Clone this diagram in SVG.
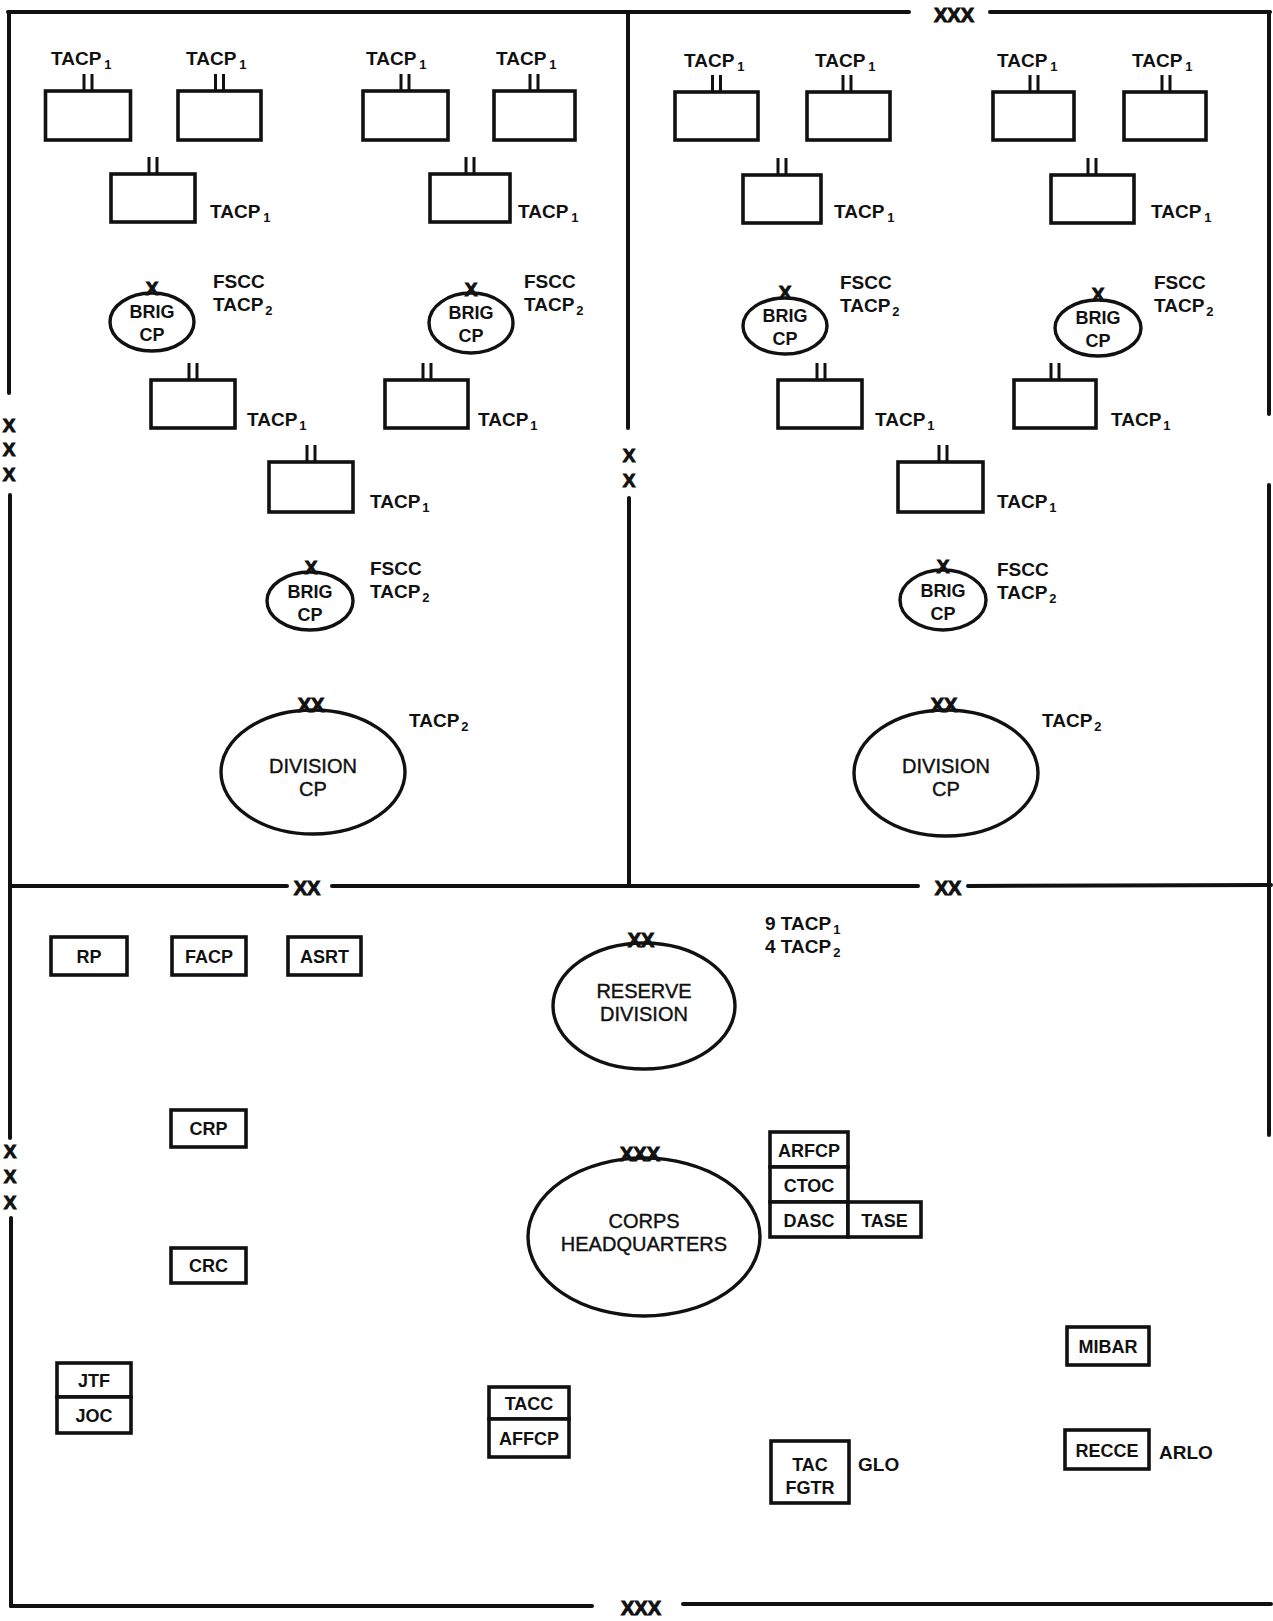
<svg xmlns="http://www.w3.org/2000/svg" width="1273" height="1621" viewBox="0 0 1273 1621">
<style>
.bg{fill:#fff}
.ln{stroke:#111;stroke-width:4;fill:none;stroke-linecap:round}
.bx{stroke:#111;stroke-width:3.6;fill:#fff}
.el{stroke:#111;stroke-width:3.4;fill:#fff}
.ii{stroke:#111;stroke-width:3;fill:none}
.t{font-family:"Liberation Sans",Arial,sans-serif;font-weight:bold;font-size:19px;fill:#111}
.s{font-size:13px}
.c{font-family:"Liberation Sans",Arial,sans-serif;font-weight:bold;font-size:18px;fill:#111;text-anchor:middle}
.e{font-family:"Liberation Sans",Arial,sans-serif;font-weight:normal;font-size:20px;fill:#111;stroke:#111;stroke-width:0.4;text-anchor:middle}
.x{font-family:"Liberation Sans",Arial,sans-serif;font-weight:bold;font-size:20px;fill:#111;stroke:#111;stroke-width:1;text-anchor:middle}
.xs{font-family:"Liberation Sans",Arial,sans-serif;font-weight:bold;font-size:19px;fill:#111;stroke:#111;stroke-width:1;text-anchor:middle}
</style>
<defs>
<g id="ii"><line class="ii" x1="-4" y1="-17" x2="-4" y2="0"/><line class="ii" x1="4" y1="-17" x2="4" y2="0"/></g>
</defs>
<rect class="bg" x="0" y="0" width="1273" height="1621"/>

<g id="boundaries">
<line class="ln" x1="8" y1="12" x2="909" y2="12"/>
<line class="ln" x1="990" y1="12" x2="1270" y2="12"/>
<text class="x" x="954" y="22" font-size="22">XXX</text>
<line class="ln" x1="9" y1="12" x2="9" y2="393"/>
<text class="xs" x="9" y="432">X</text>
<text class="xs" x="9" y="456">X</text>
<text class="xs" x="9" y="481">X</text>
<line class="ln" x1="10" y1="495" x2="10" y2="1138"/>
<text class="xs" x="10" y="1158">X</text>
<text class="xs" x="10" y="1183">X</text>
<text class="xs" x="10" y="1209">X</text>
<line class="ln" x1="11" y1="1218" x2="11" y2="1606"/>
<line class="ln" x1="628" y1="12" x2="628" y2="428"/>
<text class="xs" x="629" y="462">X</text>
<text class="xs" x="629" y="487">X</text>
<line class="ln" x1="629" y1="498" x2="629" y2="886"/>
<line class="ln" x1="10" y1="886" x2="287" y2="886"/>
<text class="x" x="307" y="895">XX</text>
<line class="ln" x1="332" y1="886" x2="918" y2="886"/>
<text class="x" x="948" y="895">XX</text>
<line class="ln" x1="968" y1="886" x2="1271" y2="885"/>
<line class="ln" x1="1269" y1="12" x2="1269" y2="414"/>
<line class="ln" x1="1269" y1="485" x2="1269" y2="1135"/>
<line class="ln" x1="11" y1="1606" x2="592" y2="1606"/>
<text class="x" x="641" y="1615" font-size="22">XXX</text>
<line class="ln" x1="683" y1="1604" x2="1271" y2="1604"/>
</g>

<!-- Top-left panel -->
<g id="tl-tacp1"><text class="t" x="51" y="65">TACP<tspan class="s" dx="3" dy="4">1</tspan></text><use href="#ii" x="88" y="91"/><rect class="bx" x="45.5" y="91" width="85" height="49"/></g>
<g id="tl-tacp2"><text class="t" x="186" y="65">TACP<tspan class="s" dx="3" dy="4">1</tspan></text><use href="#ii" x="219.5" y="91"/><rect class="bx" x="178" y="91" width="83" height="49"/></g>
<g id="tl-tacp3"><text class="t" x="366" y="65">TACP<tspan class="s" dx="3" dy="4">1</tspan></text><use href="#ii" x="405" y="91"/><rect class="bx" x="363" y="91" width="85" height="49"/></g>
<g id="tl-tacp4"><text class="t" x="496" y="65">TACP<tspan class="s" dx="3" dy="4">1</tspan></text><use href="#ii" x="534" y="91"/><rect class="bx" x="494" y="91" width="81" height="49"/></g>
<g id="tl-tacp5"><use href="#ii" x="153" y="174"/><rect class="bx" x="111" y="174" width="84" height="48"/><text class="t" x="210" y="218">TACP<tspan class="s" dx="3" dy="4">1</tspan></text></g>
<g id="tl-tacp6"><use href="#ii" x="470" y="174"/><rect class="bx" x="430" y="174" width="80" height="48"/><text class="t" x="518" y="218">TACP<tspan class="s" dx="3" dy="4">1</tspan></text></g>
<g id="tl-brig1"><ellipse class="el" cx="152" cy="322" rx="42" ry="29"/><text class="xs" x="152" y="295">X</text><text class="c" x="152" y="318">BRIG</text><text class="c" x="152" y="341">CP</text><text class="t" x="213" y="288">FSCC</text><text class="t" x="213" y="311">TACP<tspan class="s" dx="2" dy="4">2</tspan></text></g>
<g id="tl-brig2"><ellipse class="el" cx="471" cy="323" rx="42" ry="30"/><text class="xs" x="471" y="296">X</text><text class="c" x="471" y="319">BRIG</text><text class="c" x="471" y="342">CP</text><text class="t" x="524" y="288">FSCC</text><text class="t" x="524" y="311">TACP<tspan class="s" dx="2" dy="4">2</tspan></text></g>
<g id="tl-tacp7"><use href="#ii" x="193" y="380"/><rect class="bx" x="151" y="380" width="84" height="48"/><text class="t" x="247" y="426">TACP<tspan class="s" dx="2" dy="4">1</tspan></text></g>
<g id="tl-tacp8"><use href="#ii" x="427" y="380"/><rect class="bx" x="385" y="380" width="83" height="48"/><text class="t" x="478" y="426">TACP<tspan class="s" dx="2" dy="4">1</tspan></text></g>
<g id="tl-tacp9"><use href="#ii" x="311" y="462"/><rect class="bx" x="269" y="462" width="84" height="50"/><text class="t" x="370" y="508">TACP<tspan class="s" dx="2" dy="4">1</tspan></text></g>
<g id="tl-brig3"><ellipse class="el" cx="310" cy="601" rx="43" ry="29"/><text class="xs" x="311" y="574">X</text><text class="c" x="310" y="598">BRIG</text><text class="c" x="310" y="621">CP</text><text class="t" x="370" y="575">FSCC</text><text class="t" x="370" y="598">TACP<tspan class="s" dx="2" dy="4">2</tspan></text></g>
<g id="tl-division"><ellipse class="el" cx="313" cy="772" rx="92" ry="62"/><text class="x" x="311" y="712">XX</text><text class="e" x="313" y="773" font-size="21">DIVISION</text><text class="e" x="313" y="796" font-size="21">CP</text><text class="t" x="409" y="727">TACP<tspan class="s" dx="2" dy="4">2</tspan></text></g>

<!-- Top-right panel -->
<g id="tr-tacp1"><text class="t" x="684" y="67">TACP<tspan class="s" dx="3" dy="4">1</tspan></text><use href="#ii" x="716.5" y="92"/><rect class="bx" x="675" y="92" width="83" height="48"/></g>
<g id="tr-tacp2"><text class="t" x="815" y="67">TACP<tspan class="s" dx="3" dy="4">1</tspan></text><use href="#ii" x="847" y="92"/><rect class="bx" x="807" y="92" width="83" height="48"/></g>
<g id="tr-tacp3"><text class="t" x="997" y="67">TACP<tspan class="s" dx="3" dy="4">1</tspan></text><use href="#ii" x="1034" y="92"/><rect class="bx" x="993" y="92" width="81" height="48"/></g>
<g id="tr-tacp4"><text class="t" x="1132" y="67">TACP<tspan class="s" dx="3" dy="4">1</tspan></text><use href="#ii" x="1166" y="92"/><rect class="bx" x="1124" y="92" width="82" height="48"/></g>
<g id="tr-tacp5"><use href="#ii" x="782" y="175"/><rect class="bx" x="743" y="175" width="78" height="48"/><text class="t" x="834" y="218">TACP<tspan class="s" dx="3" dy="4">1</tspan></text></g>
<g id="tr-tacp6"><use href="#ii" x="1092" y="175"/><rect class="bx" x="1051" y="175" width="83" height="48"/><text class="t" x="1151" y="218">TACP<tspan class="s" dx="3" dy="4">1</tspan></text></g>
<g id="tr-brig1"><ellipse class="el" cx="785" cy="326" rx="42" ry="28"/><text class="xs" x="785" y="299">X</text><text class="c" x="785" y="322">BRIG</text><text class="c" x="785" y="345">CP</text><text class="t" x="840" y="289">FSCC</text><text class="t" x="840" y="312">TACP<tspan class="s" dx="2" dy="4">2</tspan></text></g>
<g id="tr-brig2"><ellipse class="el" cx="1098" cy="328" rx="43" ry="28"/><text class="xs" x="1098" y="301">X</text><text class="c" x="1098" y="324">BRIG</text><text class="c" x="1098" y="347">CP</text><text class="t" x="1154" y="289">FSCC</text><text class="t" x="1154" y="312">TACP<tspan class="s" dx="2" dy="4">2</tspan></text></g>
<g id="tr-tacp7"><use href="#ii" x="821" y="380"/><rect class="bx" x="778" y="380" width="84" height="48"/><text class="t" x="875" y="426">TACP<tspan class="s" dx="2" dy="4">1</tspan></text></g>
<g id="tr-tacp8"><use href="#ii" x="1055" y="380"/><rect class="bx" x="1014" y="380" width="82" height="48"/><text class="t" x="1111" y="426">TACP<tspan class="s" dx="2" dy="4">1</tspan></text></g>
<g id="tr-tacp9"><use href="#ii" x="943" y="462"/><rect class="bx" x="898" y="462" width="85" height="50"/><text class="t" x="997" y="508">TACP<tspan class="s" dx="2" dy="4">1</tspan></text></g>
<g id="tr-brig3"><ellipse class="el" cx="943" cy="600" rx="43" ry="30"/><text class="xs" x="943" y="573">X</text><text class="c" x="943" y="597">BRIG</text><text class="c" x="943" y="620">CP</text><text class="t" x="997" y="576">FSCC</text><text class="t" x="997" y="599">TACP<tspan class="s" dx="2" dy="4">2</tspan></text></g>
<g id="tr-division"><ellipse class="el" cx="946" cy="773" rx="92" ry="63"/><text class="x" x="944" y="712">XX</text><text class="e" x="946" y="773" font-size="21">DIVISION</text><text class="e" x="946" y="796" font-size="21">CP</text><text class="t" x="1042" y="727">TACP<tspan class="s" dx="2" dy="4">2</tspan></text></g>

<!-- Bottom panel -->
<g id="rp"><rect class="bx" x="51" y="937" width="76" height="38"/><text class="c" x="89" y="963">RP</text></g>
<g id="facp"><rect class="bx" x="172" y="937" width="74" height="38"/><text class="c" x="209" y="963">FACP</text></g>
<g id="asrt"><rect class="bx" x="288" y="937" width="73" height="38"/><text class="c" x="324.5" y="963">ASRT</text></g>
<g id="crp"><rect class="bx" x="171" y="1110" width="75" height="37"/><text class="c" x="208.5" y="1135">CRP</text></g>
<g id="crc"><rect class="bx" x="171" y="1248" width="75" height="35"/><text class="c" x="208.5" y="1272">CRC</text></g>
<g id="jtf-joc"><rect class="bx" x="57" y="1363" width="74" height="34"/><text class="c" x="94" y="1387">JTF</text><rect class="bx" x="57" y="1397" width="74" height="36"/><text class="c" x="94" y="1422">JOC</text></g>
<g id="tacc-affcp"><rect class="bx" x="489" y="1387" width="80" height="32"/><text class="c" x="529" y="1410">TACC</text><rect class="bx" x="489" y="1419" width="80" height="38"/><text class="c" x="529" y="1445">AFFCP</text></g>
<g id="reserve-division"><ellipse class="el" cx="644" cy="1006" rx="91" ry="63"/><text class="x" x="641" y="947">XX</text><text class="e" x="644" y="998" font-size="19">RESERVE</text><text class="e" x="644" y="1021" font-size="19">DIVISION</text><text class="t" x="765" y="930">9 TACP<tspan class="s" dx="2" dy="4">1</tspan></text><text class="t" x="765" y="953">4 TACP<tspan class="s" dx="2" dy="4">2</tspan></text></g>
<g id="corps-hq"><ellipse class="el" cx="644" cy="1237" rx="116" ry="79"/><text class="x" x="640" y="1161">XXX</text><text class="e" x="644" y="1228" font-size="19">CORPS</text><text class="e" x="644" y="1251" font-size="19">HEADQUARTERS</text></g>
<g id="arfcp-stack"><rect class="bx" x="770" y="1132" width="78" height="35"/><text class="c" x="809" y="1157">ARFCP</text><rect class="bx" x="770" y="1167" width="78" height="35"/><text class="c" x="809" y="1192">CTOC</text><rect class="bx" x="770" y="1202" width="78" height="35"/><text class="c" x="809" y="1227">DASC</text><rect class="bx" x="848" y="1202" width="73" height="35"/><text class="c" x="884.5" y="1227">TASE</text></g>
<g id="mibar"><rect class="bx" x="1067" y="1327" width="82" height="38"/><text class="c" x="1108" y="1353">MIBAR</text></g>
<g id="recce"><rect class="bx" x="1065" y="1430" width="84" height="39"/><text class="c" x="1107" y="1457">RECCE</text><text class="t" x="1159" y="1459">ARLO</text></g>
<g id="tac-fgtr"><rect class="bx" x="771" y="1441" width="78" height="62"/><text class="c" x="810" y="1471">TAC</text><text class="c" x="810" y="1494">FGTR</text><text class="t" x="858" y="1471">GLO</text></g>
</svg>
